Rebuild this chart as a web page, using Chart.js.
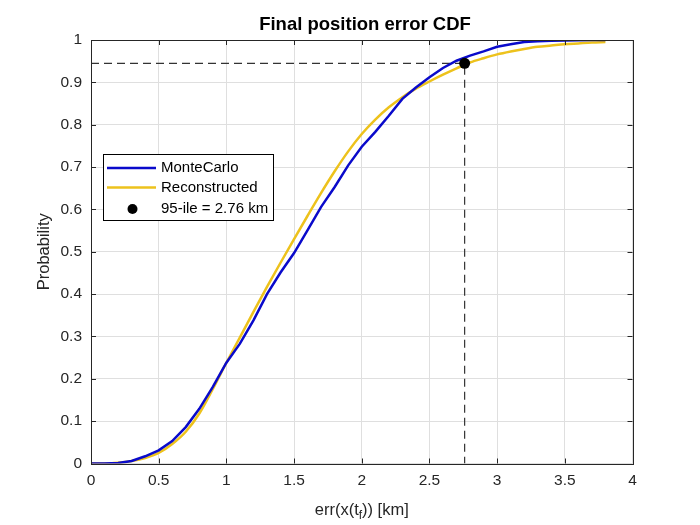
<!DOCTYPE html>
<html>
<head>
<meta charset="utf-8">
<title>Final position error CDF</title>
<script src="https://cdn.jsdelivr.net/npm/chart.js@4.4.1/dist/chart.umd.min.js"></script>
<style>
  html, body { margin: 0; padding: 0; background: #ffffff; }
  canvas { display: block; }
</style>
</head>
<body>
<canvas id="cdfChart" width="700" height="525"></canvas>
<script>
// Error values [km] where the curves were read
const errKm = [0, 0.1, 0.2, 0.3, 0.4, 0.5, 0.6, 0.7, 0.8, 0.9,
  1.0, 1.1, 1.2, 1.3, 1.4, 1.5, 1.6, 1.7, 1.8, 1.9,
  2.0, 2.1, 2.2, 2.3, 2.4, 2.5, 2.6, 2.7, 2.8, 2.9,
  3.0, 3.1, 3.2, 3.3, 3.4, 3.5, 3.6, 3.7, 3.8];

const monteCarlo = [0, 0, 0.001, 0.006, 0.017, 0.031, 0.053, 0.086, 0.129, 0.181,
  0.238, 0.283, 0.338, 0.400, 0.451, 0.497, 0.551, 0.606, 0.653, 0.704,
  0.748, 0.783, 0.821, 0.861, 0.888, 0.912, 0.934, 0.951, 0.963, 0.973,
  0.984, 0.990, 0.995, 0.997, 0.998, 0.999, 0.9995, 1.0, 1.0];

const reconstructed = [0, 0, 0.002, 0.006, 0.013, 0.025, 0.046, 0.075, 0.118, 0.176,
  0.238, 0.298, 0.358, 0.417, 0.474, 0.530, 0.585, 0.639, 0.690, 0.737,
  0.778, 0.812, 0.841, 0.865, 0.885, 0.902, 0.918, 0.933, 0.947, 0.957,
  0.966, 0.973, 0.979, 0.984, 0.987, 0.990, 0.992, 0.994, 0.995];

const p95Km = 2.76;
const p95Prob = 0.945;

const xTicks = [0, 0.5, 1, 1.5, 2, 2.5, 3, 3.5, 4];
const yTicks = [0, 0.1, 0.2, 0.3, 0.4, 0.5, 0.6, 0.7, 0.8, 0.9, 1];

const FONT = "'Liberation Sans', Arial, Helvetica, sans-serif";
const AXIS_COLOR = "#262626";
const BLUE = "#0a0acb";
const YELLOW = "#edc21c";

function toPoints(xs, ys) {
  return xs.map((x, i) => ({ x: x, y: ys[i] }));
}

function fmt(v) {
  return String(+v.toFixed(2));
}

// Box, inward ticks, titles and legend drawn MATLAB-style
const decorPlugin = {
  id: "decor",
  afterDatasetsDraw(chart) {
    const ctx = chart.ctx;
    const area = chart.chartArea;
    const xs = chart.scales.x;
    const ys = chart.scales.y;
    const tickLen = 5;

    ctx.save();
    ctx.strokeStyle = AXIS_COLOR;
    ctx.lineWidth = 1;
    ctx.beginPath();
    xTicks.forEach((v) => {
      const px = Math.round(xs.getPixelForValue(v)) + 0.5;
      ctx.moveTo(px, area.bottom);
      ctx.lineTo(px, area.bottom - tickLen);
      ctx.moveTo(px, area.top);
      ctx.lineTo(px, area.top + tickLen);
    });
    yTicks.forEach((v) => {
      const py = Math.round(ys.getPixelForValue(v)) + 0.5;
      ctx.moveTo(area.left, py);
      ctx.lineTo(area.left + tickLen, py);
      ctx.moveTo(area.right, py);
      ctx.lineTo(area.right - tickLen, py);
    });
    ctx.stroke();
    ctx.strokeRect(Math.round(area.left) + 0.5, Math.round(area.top) + 0.5,
      Math.round(area.right - area.left), Math.round(area.bottom - area.top));

    // Legend
    const lx = 103, ly = 154, lw = 170, lh = 66;
    ctx.fillStyle = "#ffffff";
    ctx.fillRect(lx, ly, lw, lh);
    ctx.strokeStyle = "#000000";
    ctx.strokeRect(lx + 0.5, ly + 0.5, lw, lh);

    ctx.lineWidth = 2.5;
    ctx.strokeStyle = BLUE;
    ctx.beginPath();
    ctx.moveTo(107, 168);
    ctx.lineTo(156, 168);
    ctx.stroke();
    ctx.strokeStyle = YELLOW;
    ctx.beginPath();
    ctx.moveTo(107, 187.5);
    ctx.lineTo(156, 187.5);
    ctx.stroke();
    ctx.fillStyle = "#000000";
    ctx.beginPath();
    ctx.arc(132.5, 209, 5, 0, Math.PI * 2);
    ctx.fill();

    ctx.font = "15px " + FONT;
    ctx.textAlign = "left";
    ctx.textBaseline = "middle";
    ctx.fillStyle = "#000000";
    ctx.fillText("MonteCarlo", 161, 168);
    ctx.fillText("Reconstructed", 161, 188);
    ctx.fillText("95-ile = " + p95Km.toFixed(2) + " km", 161, 209);

    // Title
    ctx.font = "bold 18.5px " + FONT;
    ctx.textAlign = "center";
    ctx.textBaseline = "alphabetic";
    ctx.fillText("Final position error CDF", 365, 30);

    // Y axis label
    ctx.fillStyle = AXIS_COLOR;
    ctx.font = "16.5px " + FONT;
    ctx.save();
    ctx.translate(48.5, (area.top + area.bottom) / 2);
    ctx.rotate(-Math.PI / 2);
    ctx.fillText("Probability", 0, 0);
    ctx.restore();

    // X axis label with subscript
    const big = "16.5px " + FONT;
    const small = "12px " + FONT;
    const partA = "err(x(t";
    const partB = "f";
    const partC = ")) [km]";
    ctx.font = big;
    const wA = ctx.measureText(partA).width;
    const wC = ctx.measureText(partC).width;
    ctx.font = small;
    const wB = ctx.measureText(partB).width;
    const total = wA + wB + wC;
    let x0 = (area.left + area.right) / 2 - total / 2;
    const base = 515;
    ctx.textAlign = "left";
    ctx.font = big;
    ctx.fillText(partA, x0, base);
    ctx.font = small;
    ctx.fillText(partB, x0 + wA, base + 4);
    ctx.font = big;
    ctx.fillText(partC, x0 + wA + wB, base);
    ctx.restore();
  }
};

document.addEventListener("DOMContentLoaded", function () {
  const ctx = document.getElementById("cdfChart").getContext("2d");
  new Chart(ctx, {
    type: "line",
    data: {
      datasets: [
        {
          label: "95-ile marker",
          data: [{ x: p95Km, y: p95Prob }],
          showLine: false,
          pointRadius: 5.5,
          pointBackgroundColor: "#000000",
          pointBorderWidth: 0,
          order: 0
        },
        {
          label: "MonteCarlo",
          data: toPoints(errKm, monteCarlo),
          borderColor: BLUE,
          borderWidth: 2.5,
          pointRadius: 0,
          tension: 0,
          order: 1
        },
        {
          label: "Reconstructed",
          data: toPoints(errKm, reconstructed),
          borderColor: YELLOW,
          borderWidth: 2.5,
          pointRadius: 0,
          cubicInterpolationMode: "monotone",
          order: 2
        },
        {
          label: "95-ile guide",
          data: [{ x: 0, y: p95Prob }, { x: p95Km, y: p95Prob }, { x: p95Km, y: 0 }],
          borderColor: "#333333",
          borderWidth: 1.2,
          borderDash: [8, 5],
          pointRadius: 0,
          tension: 0,
          order: 3
        }
      ]
    },
    options: {
      responsive: false,
      animation: false,
      devicePixelRatio: 1,
      layout: {
        padding: { top: 40, right: 67.5, left: 0, bottom: 0 }
      },
      plugins: {
        legend: { display: false },
        title: { display: false },
        tooltip: { enabled: false }
      },
      scales: {
        x: {
          type: "linear",
          min: 0,
          max: 4,
          afterBuildTicks: (scale) => {
            scale.ticks = xTicks.map((v) => ({ value: v }));
          },
          afterFit: (scale) => {
            scale.height = 61.5;
          },
          ticks: {
            callback: fmt,
            color: AXIS_COLOR,
            font: { family: FONT, size: 15.5 },
            padding: 8,
            maxRotation: 0
          },
          grid: {
            color: "#dfdfdf",
            drawTicks: false
          },
          border: { display: false }
        },
        y: {
          type: "linear",
          min: 0,
          max: 1,
          afterBuildTicks: (scale) => {
            scale.ticks = yTicks.map((v) => ({ value: v }));
          },
          afterFit: (scale) => {
            scale.width = 91;
          },
          ticks: {
            callback: fmt,
            color: AXIS_COLOR,
            font: { family: FONT, size: 15.5 },
            padding: 9
          },
          grid: {
            color: "#dfdfdf",
            drawTicks: false
          },
          border: { display: false }
        }
      }
    },
    plugins: [decorPlugin]
  });
});
</script>
</body>
</html>
